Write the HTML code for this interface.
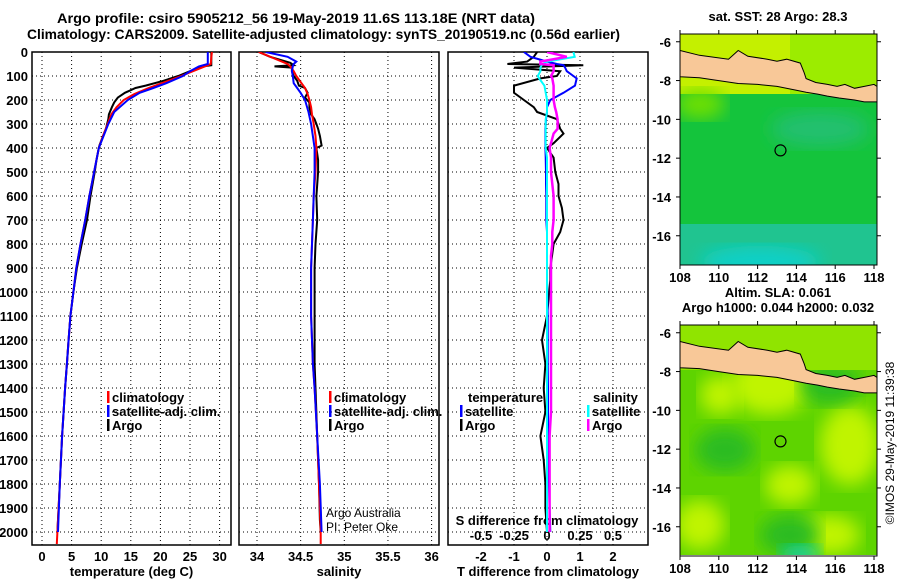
<!DOCTYPE html>
<html><head><meta charset="utf-8"><style>
html,body{margin:0;padding:0;background:#fff;}
svg{display:block;font-family:"Liberation Sans",sans-serif;}
.b{font-weight:bold;font-size:13px;}
.t{font-weight:bold;font-size:14px;}
.n{font-size:12px;}
</style></head><body>
<svg id="fig" width="900" height="580" viewBox="0 0 900 580" xmlns="http://www.w3.org/2000/svg">
<defs>
<clipPath id="c1"><rect x="32" y="52" width="199" height="493"/></clipPath>
<clipPath id="c2"><rect x="239" y="52" width="200" height="493"/></clipPath>
<clipPath id="c3"><rect x="448" y="52" width="200" height="493"/></clipPath>
<clipPath id="m1"><rect x="680" y="34" width="197" height="231"/></clipPath>
<clipPath id="m2"><rect x="680" y="325" width="197" height="230"/></clipPath>
<filter id="blur"><feGaussianBlur stdDeviation="9"/></filter>
</defs>
<text class="t" x="57" y="23" textLength="478" lengthAdjust="spacingAndGlyphs">Argo profile: csiro 5905212_56 19-May-2019 11.6S 113.18E (NRT data)</text>
<text class="t" x="27" y="39" textLength="593" lengthAdjust="spacingAndGlyphs">Climatology: CARS2009. Satellite-adjusted climatology: synTS_20190519.nc (0.56d earlier)</text>
<g id="axes"></g>
<g id="maps"></g>
<text class="n" transform="translate(894,443) rotate(-90)" text-anchor="middle">©IMOS 29-May-2019 11:39:38</text>
</svg>
<script>
// ---- data ----
const depthTicks=[0,100,200,300,400,500,600,700,800,900,1000,1100,1200,1300,1400,1500,1600,1700,1800,1900,2000];
const tempTicks=[0,5,10,15,20,25,30];
const salTicks=[34,34.5,35,35.5,36];
const salTickLabels=["34","34.5","35","35.5","36"];
const tdiffTicks=[-2,-1,0,1,2];
const sdiffTicks=[-0.5,-0.25,0,0.25,0.5];
const sdiffTickLabels=["-0.5","-0.25","0","0.25","0.5"];

const climDepth=[0,50,60,80,100,125,150,175,200,230,260,300,350,400,500,600,700,800,900,1000,1100,1200,1300,1400,1600,1800,2000,2050];
const climTemp=[28.7,28.5,27.5,25.5,23.5,20.8,18.0,15.6,13.8,12.6,11.7,11.1,10.3,9.6,8.8,8.0,7.3,6.5,5.8,5.3,4.8,4.5,4.2,3.9,3.4,3.0,2.6,2.5];
const climSal=[34.02,34.35,34.38,34.42,34.45,34.5,34.55,34.58,34.6,34.62,34.63,34.65,34.67,34.68,34.67,34.65,34.64,34.63,34.62,34.62,34.62,34.63,34.64,34.66,34.69,34.71,34.73,34.73];

const satDepth=[0,20,40,50,60,80,100,130,150,170,200,250,300,400,500,600,700,800,900,1000,1100,1200,1300,1400,1600,1800,2000];
const satTemp=[28.0,28.0,28.0,28.0,26.5,25.0,23.8,21.0,18.8,16.5,14.5,12.2,11.2,9.6,8.8,8.0,7.3,6.5,5.8,5.3,4.8,4.5,4.2,3.9,3.4,3.0,2.7];
const satSal=[34.1,34.35,34.45,34.42,34.41,34.4,34.41,34.42,34.46,34.5,34.55,34.59,34.62,34.66,34.66,34.65,34.64,34.63,34.62,34.62,34.62,34.63,34.64,34.66,34.69,34.72,34.74];

const argoDepth=[0,20,45,55,60,65,80,100,120,140,150,170,190,210,230,260,280,300,320,350,390,400,450,500,600,700,800,900,1000,1100,1200,1300,1400,1600,1800,1950,2000];
const argoTemp=[28.6,28.6,28.6,28.6,27.2,26.8,25.0,23.0,20.5,17.5,15.8,14.0,12.8,12.2,11.8,11.3,11.2,11.0,10.8,10.3,9.7,9.6,9.2,8.9,8.2,7.6,6.7,5.9,5.3,4.8,4.5,4.2,3.9,3.4,3.0,2.7,2.6];
const argoSal=[34.02,34.15,34.38,34.42,34.2,34.4,34.4,34.42,34.46,34.48,34.55,34.58,34.55,34.6,34.6,34.62,34.66,34.68,34.7,34.72,34.74,34.68,34.7,34.7,34.68,34.69,34.67,34.66,34.66,34.66,34.66,34.66,34.67,34.69,34.71,34.72,34.73];

const diffDepth=[0,20,40,50,55,65,80,100,110,140,170,200,230,250,280,320,340,380,400,440,500,550,600,650,700,750,800,850,900,950,1100,1200,1300,1400,1500,1600,1700,1800,1900,2000];
const tdiffArgo=[-0.3,-0.4,-0.6,-1.2,1.1,-1.0,0.4,0.3,-0.2,-1.0,-1.0,-0.7,-0.4,-0.3,0.3,0.4,0.5,0.2,0.0,0.2,0.25,0.35,0.35,0.45,0.5,0.4,0.2,0.15,0.1,0.1,0.0,-0.15,-0.05,-0.1,-0.05,-0.2,-0.1,-0.05,-0.05,0.0];
const tdiffSat=[-0.7,-0.5,0.0,0.3,0.5,0.55,0.6,0.8,0.9,0.85,0.5,0.1,0.0,0.0,-0.03,-0.05,-0.05,-0.05,-0.05,-0.04,-0.03,-0.03,-0.02,-0.02,-0.02,0.0,0.0,0.0,0.0,0.0,0.02,0.02,0.02,0.03,0.03,0.04,0.05,0.06,0.08,0.1];
const sdiffSat=[0.2,0.21,0.0,-0.03,-0.04,-0.05,-0.05,-0.07,-0.06,-0.02,-0.01,0.0,0.0,0.0,-0.01,-0.01,-0.01,-0.01,-0.01,0.0,0.0,0.0,0.0,0.0,0.0,0.0,0.0,0.0,0.0,0.0,0.0,0.0,0.0,0.0,0.0,0.0,0.0,0.0,0.0,0.0];
const sdiffArgo=[0.0,0.15,-0.05,-0.05,0.05,0.05,0.05,0.03,0.04,0.05,0.05,0.05,0.06,0.07,0.08,0.08,0.05,0.03,0.02,0.03,0.03,0.04,0.05,0.05,0.05,0.04,0.04,0.03,0.03,0.03,0.03,0.03,0.03,0.03,0.03,0.02,0.02,0.02,0.02,0.02];

// ---- scales ----
const yD=d=>52+d*0.24;
const xT=t=>42+t*5.92;
const xS=s=>257+(s-34)*87.3;
const xTd=v=>547+33*v;
const xSd=v=>547+132*v;
const NS="http://www.w3.org/2000/svg";
const axes=document.getElementById('axes');
function mk(tag,attrs,parent){const e=document.createElementNS(NS,tag);for(const k in attrs)e.setAttribute(k,attrs[k]);(parent||axes).appendChild(e);return e;}
function txt(x,y,s,cls,anchor,parent){const e=mk('text',{x:x,y:y,class:cls,'text-anchor':anchor||'start'},parent);e.textContent=s;return e;}

const panels=[
 {x0:32,x1:231,clip:'c1',ticks:tempTicks,labels:tempTicks.map(String),fx:xT,title:'temperature (deg C)',name:'temperature-panel'},
 {x0:239,x1:439,clip:'c2',ticks:salTicks,labels:salTickLabels,fx:xS,title:'salinity',name:'salinity-panel'},
 {x0:448,x1:648,clip:'c3',ticks:tdiffTicks,labels:tdiffTicks.map(String),fx:xTd,title:'T difference from climatology',name:'difference-panel'}
];
panels.forEach(p=>{
 const g=mk('g',{});
 
 
 depthTicks.forEach(d=>{
  const l=mk('line',{x1:p.x0,x2:p.x1,y1:yD(d),y2:yD(d),stroke:'#000','stroke-width':1,'stroke-dasharray':'1,3'},g);
  
  
 });
 p.ticks.forEach((t,i)=>{
  const x=p.fx(t);
  const l=mk('line',{x1:x,x2:x,y1:52,y2:545,stroke:'#000','stroke-width':1,'stroke-dasharray':'1,3'},g);
  
  
  const tl=txt(x,561,p.labels[i],'b','middle',g);
  
  
 });
 const r=mk('rect',{x:p.x0,y:52,width:p.x1-p.x0,height:493,fill:'none',stroke:'#000','stroke-width':1.5},g);
 
 
 const at=txt((p.x0+p.x1)/2,576,p.title,'b','middle',g);
 
 
});
depthTicks.forEach(d=>{
 const t=txt(28,yD(d)+5,String(d),'b','end');
 
 
});
sdiffTicks.forEach((v,i)=>{
 const t=txt(xSd(v),540,sdiffTickLabels[i],'b','middle');
 
 
});
const sdt=txt(547,525,'S difference from climatology','b','middle');



function series(depths,vals,fx,color,clip,name,w){
 const pts=depths.map((d,i)=>fx(vals[i]).toFixed(1)+','+yD(d).toFixed(1)).join(' ');
 const pl=mk('polyline',{points:pts,fill:'none',stroke:color,'stroke-width':w||2,'clip-path':'url(#'+clip+')'});
 
 
}
series(argoDepth,argoTemp,xT,'#000','c1','argo-temperature-line');
series(climDepth,climTemp,xT,'#f00','c1','climatology-temperature-line');
series(satDepth,satTemp,xT,'#00f','c1','satellite-temperature-line');
series(argoDepth,argoSal,xS,'#000','c2','argo-salinity-line');
series(climDepth,climSal,xS,'#f00','c2','climatology-salinity-line');
series(satDepth,satSal,xS,'#00f','c2','satellite-salinity-line');
series(diffDepth,tdiffArgo,xTd,'#000','c3','argo-t-diff-line');
series(diffDepth,tdiffSat,xTd,'#00f','c3','satellite-t-diff-line');
series(diffDepth,sdiffSat,xSd,'#0ff','c3','satellite-s-diff-line');
series(diffDepth,sdiffArgo,xSd,'#f0f','c3','argo-s-diff-line',2.5);

function legend(x,y,color,label,name){
 const g=mk('g',{});
 
 
 mk('rect',{x:x,y:y-11,width:2.5,height:12,fill:color},g);
 txt(x+5,y,label,'b','start',g);
}
legend(107,402,'#f00','climatology','legend-climatology-temp');
legend(107,416,'#00f','satellite-adj. clim.','legend-satellite-temp');
legend(107,430,'#000','Argo','legend-argo-temp');
legend(329,402,'#f00','climatology','legend-climatology-sal');
legend(329,416,'#00f','satellite-adj. clim.','legend-satellite-sal');
legend(329,430,'#000','Argo','legend-argo-sal');
const lt=txt(468,402,'temperature','b');


legend(460,416,'#00f','satellite','legend-t-satellite');
legend(460,430,'#000','Argo','legend-t-argo');
const ls=txt(593,402,'salinity','b');


legend(587,416,'#0ff','satellite','legend-s-satellite');
legend(587,430,'#f0f','Argo','legend-s-argo');
const a1=txt(326,517,'Argo Australia','n');


const a2=txt(326,531,'PI: Peter Oke','n');



// ---- maps ----
const mapsG=document.getElementById('maps');
const lonTicks=[108,110,112,114,116,118];
const latTicks=[-6,-8,-10,-12,-14,-16];
const land=[[108,-6.45],[109,-6.7],[110.5,-6.9],[111,-6.45],[111.5,-6.75],[112.5,-6.9],[113,-7.0],[113.5,-6.9],[114.2,-7.1],[114.4,-7.6],[114.5,-7.9],[115,-8.1],[115.6,-8.2],[116.1,-8.3],[116.5,-8.2],[117,-8.4],[117.5,-8.3],[118,-8.2],[118.3,-8.4],[118.3,-9.1],[117.5,-9.1],[117,-9.0],[116.2,-8.9],[115.6,-8.8],[115.1,-8.7],[114.5,-8.6],[114,-8.5],[113,-8.3],[112,-8.2],[111,-8.15],[110,-8.0],[109,-7.85],[108,-7.8]];
function drawMap(top,clip,title1,title2,style){
 const g=mk('g',{},mapsG);
 
 
 const bottom=top+231;
 const X=lon=>680+(lon-108)*19.4;
 const Y=lat=>top+ (-5.6-lat)*19.4;
 const inner=mk('g',{'clip-path':'url(#'+clip+')'},g);
 if(style===1){
  mk('rect',{x:680,y:top,width:197,height:231,fill:'#14c43c'},inner);
  mk('rect',{x:680,y:top,width:197,height:60,fill:'#c4f000'},inner);
  mk('rect',{x:790,y:top,width:90,height:60,fill:'#9cec00'},inner);
  mk('rect',{x:680,y:top+190,width:197,height:45,fill:'#20c490'},inner);
  mk('ellipse',{cx:760,cy:top+228,rx:60,ry:16,fill:'#10d0c8',filter:'url(#blur)'},inner);
  mk('ellipse',{cx:820,cy:top+95,rx:50,ry:18,fill:'#22c070',filter:'url(#blur)'},inner);
  mk('ellipse',{cx:700,cy:top+70,rx:25,ry:15,fill:'#70e000',filter:'url(#blur)'},inner);
 } else {
  mk('rect',{x:680,y:top,width:197,height:231,fill:'#5ed400'},inner);
  [[770,top+60,40,30],[850,top+120,30,40],[700,top+200,25,25],[830,top+210,30,20],[720,top+70,20,20],[790,top+160,25,20]].forEach(e=>mk('ellipse',{cx:e[0],cy:e[1],rx:e[2],ry:e[3],fill:'#c0f400',filter:'url(#blur)'},inner));
  [[725,top+125,30,22],[790,top+210,30,20],[830,top+60,30,20]].forEach(e=>mk('ellipse',{cx:e[0],cy:e[1],rx:e[2],ry:e[3],fill:'#2cbc20',filter:'url(#blur)'},inner));
  mk('ellipse',{cx:800,cy:top+230,rx:20,ry:10,fill:'#10d0b0',filter:'url(#blur)'},inner);
  mk('rect',{x:680,y:top,width:197,height:45,fill:'#90e400'},inner);
 }
 const lp=mk('polygon',{points:land.map(p=>X(p[0]).toFixed(1)+','+Y(p[1]).toFixed(1)).join(' '),fill:'#f8c898',stroke:'#000','stroke-width':1},inner);
 
 
 const dot=mk('circle',{cx:X(113.18),cy:Y(-11.6),r:5.5,fill:'none',stroke:'#000','stroke-width':1.2},inner);
 
 
 mk('rect',{x:680,y:top,width:197,height:231,fill:'none',stroke:'#000','stroke-width':1},g);
 lonTicks.forEach(l=>{
  mk('line',{x1:X(l),x2:X(l),y1:top,y2:top-4,stroke:'#000'},g);
  mk('line',{x1:X(l),x2:X(l),y1:bottom,y2:bottom+4,stroke:'#000'},g);
  const t=txt(X(l),bottom+17,String(l),'b','middle',g);
  
  
 });
 latTicks.forEach(l=>{
  mk('line',{x1:680,x2:676,y1:Y(l),y2:Y(l),stroke:'#000'},g);
  mk('line',{x1:877,x2:881,y1:Y(l),y2:Y(l),stroke:'#000'},g);
  const t=txt(671,Y(l)+5,String(l),'b','end',g);
  
  
 });
 const t1=txt(778,title2?top-28:top-13,title1,'b','middle',g);
 
 
 if(title2){const t2=txt(778,top-13,title2,'b','middle',g);
  
  }
}
drawMap(34,'m1','sat. SST: 28 Argo: 28.3',null,1);
drawMap(325,'m2','Altim. SLA: 0.061','Argo h1000: 0.044 h2000: 0.032',2);
</script>
</body></html>
